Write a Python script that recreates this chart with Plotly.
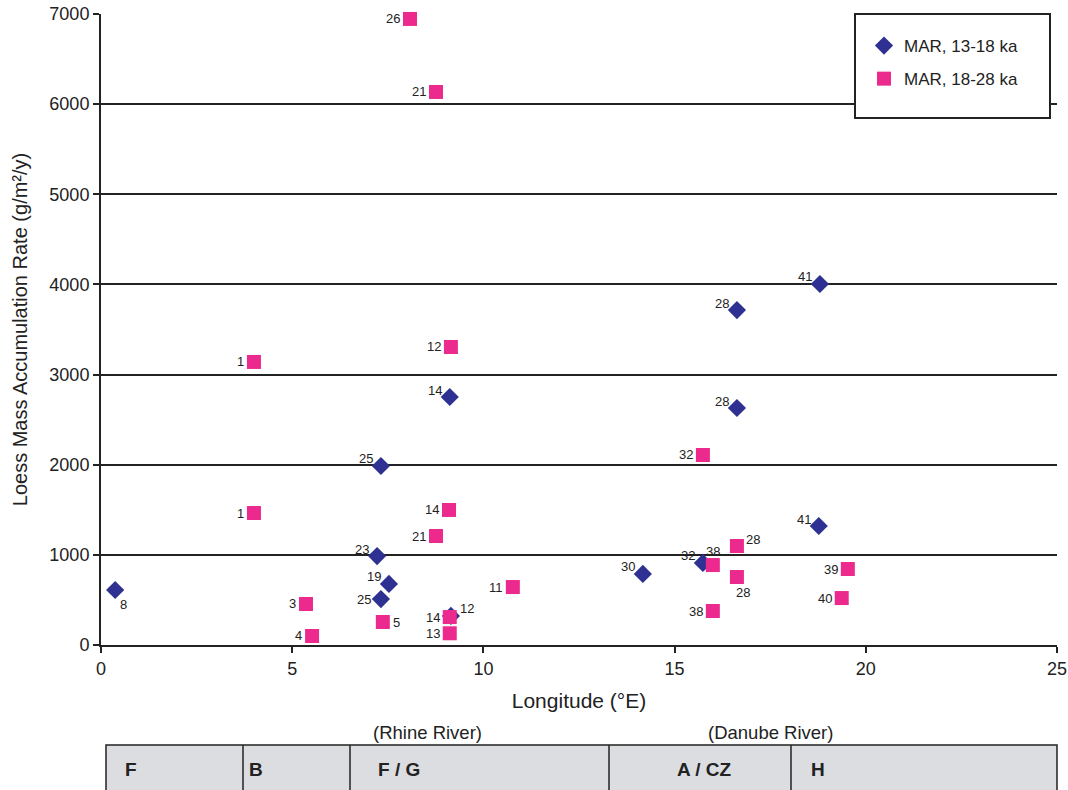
import plotly.graph_objects as go

# ---- data ----
lon_13_18 = [0.37, 18.80, 16.63, 9.12, 16.63, 7.32, 18.77, 7.22, 7.53, 7.32, 9.15, 14.17, 15.74]
mar_13_18 = [610, 4005, 3716, 2751, 2629, 1986, 1320, 987, 677, 510, 322, 788, 910]
lbl_13_18 = ["8", "41", "28", "14", "28", "25", "41", "23", "19", "25", "12", "30", "32"]

lon_18_28 = [8.08, 8.76, 4.00, 9.15, 15.74, 4.00, 9.10, 8.76, 10.77, 5.36, 5.52, 7.37, 9.12, 9.12,
             16.00, 16.63, 16.63, 16.00, 19.53, 19.37]
mar_18_28 = [6945, 6135, 3140, 3306, 2108, 1464, 1498, 1209, 643, 455, 100, 255, 310, 130,
             887, 1098, 754, 377, 843, 521]
lbl_18_28 = ["26", "21", "1", "12", "32", "1", "14", "21", "11", "3", "4", "5", "14", "13",
             "38", "28", "28", "38", "39", "40"]

regions = ["F", "B", "F / G", "A / CZ", "H"]
rivers = ["(Rhine River)", "(Danube River)"]

# ---- label placement (style) ----
pos_13_18 = ["BR", "UL", "UL", "UL", "UL", "UL", "UL", "UL", "UL", "L", "UR", "UL", "UL"]
pos_18_28 = ["L"] * 11 + ["R", "L", "L", "T", "UR", "B", "L", "L", "L"]
PLACE = {
    "L": dict(xanchor="right", yanchor="middle", xshift=-8, yshift=0),
    "UL": dict(xanchor="right", yanchor="middle", xshift=-6, yshift=7),
    "R": dict(xanchor="left", yanchor="middle", xshift=8, yshift=0),
    "UR": dict(xanchor="left", yanchor="middle", xshift=7, yshift=7),
    "T": dict(xanchor="center", yanchor="middle", xshift=0, yshift=14),
    "B": dict(xanchor="center", yanchor="middle", xshift=6, yshift=-15),
    "BR": dict(xanchor="left", yanchor="middle", xshift=3, yshift=-14),
}

FONT = "Liberation Sans, Arial, sans-serif"
BLUE = "#2E3192"
PINK = "#EC2A8E"
INK = "#222222"

W, H = 1068, 790
L, R, T, B = 101, 11, 14, 145
PW, PH = W - L - R, H - T - B


def px_x(p):
    return (p - L) / PW


def px_y(p):
    return (H - B - p) / PH


fig = go.Figure()
fig.add_trace(go.Scatter(
    x=lon_13_18, y=mar_13_18, mode="markers", name="MAR, 13-18 ka",
    marker=dict(symbol="diamond", size=14, color=BLUE, line=dict(width=0)),
    legendgroup="a", cliponaxis=False,
))
fig.add_trace(go.Scatter(
    x=lon_18_28, y=mar_18_28, mode="markers", name="MAR, 18-28 ka",
    marker=dict(symbol="square", size=14, color=PINK, line=dict(width=0)),
    legendgroup="b", cliponaxis=False,
))

annotations = []
for xs, ys, labs, poss in [(lon_13_18, mar_13_18, lbl_13_18, pos_13_18),
                           (lon_18_28, mar_18_28, lbl_18_28, pos_18_28)]:
    for xv, yv, lab, p in zip(xs, ys, labs, poss):
        annotations.append(dict(text=lab, x=xv, y=yv, xref="x", yref="y", showarrow=False,
                                font=dict(family=FONT, size=13, color=INK), **PLACE[p]))

shapes = []
# legend box
shapes.append(dict(type="rect", xref="paper", yref="paper",
                   x0=px_x(855), x1=px_x(1050), y0=px_y(118), y1=px_y(14),
                   fillcolor="white", line=dict(color=INK, width=2), layer="above"))
# region table
shapes.append(dict(type="rect", xref="paper", yref="paper",
                   x0=px_x(106), x1=px_x(1057), y0=px_y(800), y1=px_y(745),
                   fillcolor="#DCDDE1", line=dict(color=INK, width=1.5)))
for xd in [243, 350, 609, 791]:
    shapes.append(dict(type="line", xref="paper", yref="paper",
                       x0=px_x(xd), x1=px_x(xd), y0=px_y(800), y1=px_y(745),
                       line=dict(color=INK, width=1.5)))

for lab, cx in zip(regions, [131, 256, 399, 704, 818]):
    annotations.append(dict(text=f"<b>{lab}</b>", x=px_x(cx), y=px_y(769), xref="paper", yref="paper",
                            xanchor="center", yanchor="middle", showarrow=False,
                            font=dict(family=FONT, size=19, color=INK)))
for lab, cx in zip(rivers, [427, 770]):
    annotations.append(dict(text=lab, x=px_x(cx), y=px_y(732), xref="paper", yref="paper",
                            xanchor="center", yanchor="middle", showarrow=False,
                            font=dict(family=FONT, size=18.5, color=INK)))

fig.update_layout(
    width=W, height=H,
    margin=dict(l=L, r=R, t=T, b=B, autoexpand=False),
    paper_bgcolor="white", plot_bgcolor="white",
    font=dict(family=FONT, color=INK),
    showlegend=True,
    legend=dict(x=px_x(864), y=px_y(28), xanchor="left", yanchor="top",
                bgcolor="rgba(0,0,0,0)", borderwidth=0, tracegroupgap=8,
                font=dict(family=FONT, size=17, color=INK)),
    shapes=shapes, annotations=annotations,
)
fig.update_xaxes(range=[0, 25], tickvals=[0, 5, 10, 15, 20, 25], showgrid=False, zeroline=False,
                 automargin=False,
                 showline=True, linecolor=INK, linewidth=2, ticks="outside", ticklen=6,
                 tickcolor=INK, tickwidth=1.5, tickfont=dict(family=FONT, size=18, color=INK),
                 title=dict(text="Longitude (°E)", font=dict(family=FONT, size=21, color=INK), standoff=16))
fig.update_yaxes(range=[0, 7000], tickvals=[0, 1000, 2000, 3000, 4000, 5000, 6000, 7000],
                 automargin=False,
                 showgrid=True, gridcolor=INK, gridwidth=1.5, zeroline=False,
                 showline=True, linecolor=INK, linewidth=2, ticks="outside", ticklen=6,
                 tickcolor=INK, tickwidth=1.5, tickfont=dict(family=FONT, size=18, color=INK),
                 title=dict(text="Loess Mass Accumulation Rate (g/m²/y)",
                            font=dict(family=FONT, size=20, color=INK), standoff=16))

fig.write_html("out.html", config={"displayModeBar": False},
               post_script="document.body.style.margin='0px';")
